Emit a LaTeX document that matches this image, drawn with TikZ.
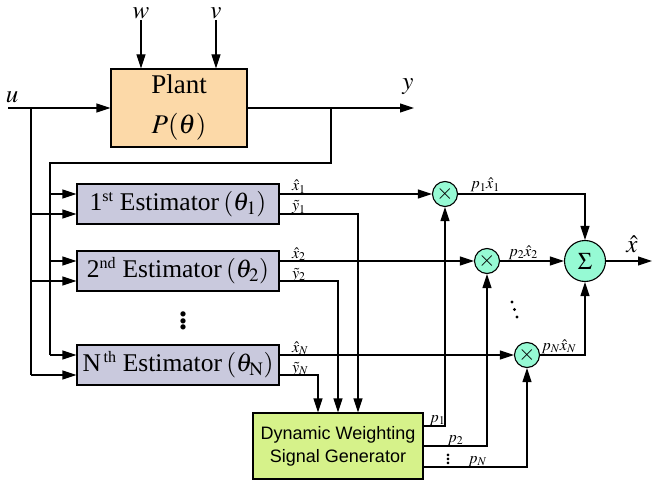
\documentclass[tikz,border=0pt]{standalone}
\usepackage{mathptmx}
\usepackage{fontspec}
\setmainfont{Liberation Serif}
\setsansfont{Liberation Sans}
\usetikzlibrary{positioning,arrows.meta,calc}
\definecolor{plantfill}{RGB}{252,217,168}
\definecolor{estfill}{RGB}{201,201,221}
\definecolor{circfill}{RGB}{150,250,212}
\definecolor{genfill}{RGB}{214,242,138}
\newcommand{\ordsup}[1]{\textsuperscript{\fontsize{16}{16}\selectfont #1}}

\begin{document}
\begin{tikzpicture}[
      x=1pt, y=-1pt,
      line width=1.1pt,
      >={Triangle[length=14pt,width=9pt]},
      plantbox/.style={draw, fill=plantfill, minimum width=136pt, minimum height=78pt,
                       align=center, font=\fontsize{27}{40}\selectfont},
      estbox/.style={draw, fill=estfill, minimum width=202pt, minimum height=40pt,
                     inner sep=0pt, font=\fontsize{25.5}{28}\selectfont},
      genbox/.style={draw, fill=genfill, minimum width=170pt, minimum height=66pt,
                     align=center, font=\sffamily\fontsize{18}{23}\selectfont},
      mult/.style={draw, circle, fill=circfill, minimum size=25pt, inner sep=0pt,
                   font=\fontsize{22}{22}\selectfont},
      sumnode/.style={draw, circle, fill=circfill, minimum size=41pt, inner sep=0pt,
                      font=\fontsize{24}{24}\selectfont},
      sig/.style={font=\fontsize{16}{16}\selectfont, inner sep=0pt},
      bigsig/.style={font=\fontsize{25}{25}\selectfont, inner sep=0pt},
    ]
    \useasboundingbox (0,0) rectangle (653,481);

    % blocks
    \node[plantbox] (plant) at (179,108) {Plant\\$P(\theta)$};
    \node[estbox] (est1) at (178,204) {1\ordsup{st} Estimator\,$(\theta_1)$};
    \node[estbox] (est2) at (178,271) {2\ordsup{nd} Estimator\,$(\theta_2)$};
    \node[estbox] (estN) at (178,365) {N\ordsup{\,th} Estimator\,$(\theta_{\mathrm{N}})$};
    \node[font=\fontsize{32}{32}\selectfont\bfseries] (edots) at (183,318) {$\vdots$};
    \node[genbox] (gen) at (338,446) {Dynamic Weighting\\Signal Generator};

    \node[mult] (m1) at (445,194) {$\times$};
    \node[mult] (m2) at (487,261) {$\times$};
    \node[mult] (mN) at (527,355) {$\times$};
    \node[sumnode] (sum) at (585,261) {$\Sigma$};

    % inputs and plant output
    \node[bigsig, anchor=base] (ulab) at (12,103) {$u$};
    \node[bigsig, anchor=base] (wlab) at (141,19) {$w$};
    \node[bigsig, anchor=base] (vlab) at (216,19) {$v$};
    \node[bigsig, anchor=base] (ylab) at (408,90) {$y$};
    \coordinate (u0) at (8,108);
    \coordinate (us) at (31,108);
    \coordinate (ys) at (331,108);
    \coordinate (yout) at (414,108);
    \coordinate (fb) at (50,163);

    \draw[->] (wlab.south |- 0,20) -- (wlab |- plant.north);
    \draw[->] (vlab.south |- 0,20) -- (vlab |- plant.north);
    \draw[->] (u0) -- (plant.west);
    \draw[->] (plant.east) -- (yout);

    % ports of the estimators
    \foreach \e in {est1,est2,estN} {
      \path ([yshift=10pt]\e.west) coordinate (\e-a)
            ([yshift=-10pt]\e.west) coordinate (\e-b)
            ([yshift=10pt]\e.east) coordinate (\e-x)
            ([yshift=-10pt]\e.east) coordinate (\e-y);
      \draw[->] (fb |- \e-a) -- (\e-a);
      \draw[->] (us |- \e-b) -- (\e-b);
    }
    \draw (us) -- (us |- estN-b);
    \draw (ys) |- (fb) -- (fb |- estN-a);

    % estimates to the multipliers
    \draw[->] (est1-x) -- (m1);
    \draw[->] (est2-x) -- (m2);
    \draw[->] (estN-x) -- (mN);
    \node[sig, anchor=base west] at ([xshift=12pt,yshift=3pt]est1-x) {$\hat{x}_1$};
    \node[sig, anchor=base west] at ([xshift=12pt,yshift=3pt]est2-x) {$\hat{x}_2$};
    \node[sig, anchor=base west] at ([xshift=12pt,yshift=3pt]estN-x) {$\hat{x}_N$};

    % residuals to the generator
    \draw[->] (est1-y) -| ([xshift=20pt]gen.north);
    \draw[->] (est2-y) -| (gen.north);
    \draw[->] (estN-y) -| ([xshift=-20pt]gen.north);
    \node[sig, anchor=base west] at ([xshift=12pt,yshift=3pt]est1-y) {$\tilde{y}_1$};
    \node[sig, anchor=base west] at ([xshift=12pt,yshift=3pt]est2-y) {$\tilde{y}_2$};
    \node[sig, anchor=base west] at ([xshift=12pt,yshift=3pt]estN-y) {$\tilde{y}_N$};

    % weights
    \draw[->] ([yshift=20pt]gen.east) coordinate (g1) -| (m1.south);
    \draw[->] (gen.east) coordinate (g2) -| (m2.south);
    \draw[->] ([yshift=-21pt]gen.east) coordinate (gN) -| (mN.south);
    \node[sig, anchor=base] at ([xshift=14pt,yshift=4pt]g1) {$p_1$};
    \node[sig, anchor=base] at ([xshift=32pt,yshift=4pt]g2) {$p_2$};
    \node[sig, anchor=base] at ([xshift=54pt,yshift=4pt]gN) {$p_N$};
    \node[font=\fontsize{16}{16}\selectfont\bfseries] (gdots) at (448,456) {$\vdots$};

    % weighted sum
    \draw[->] (m1) -| (sum.north);
    \draw[->] (m2) -- (sum);
    \draw[->] (mN) -| (sum.south);
    \draw[->] (sum) -- (652,261) coordinate (xout);
    \node[sig, anchor=base west] at ([xshift=12pt,yshift=5pt]m1.east) {$p_1\hat{x}_1$};
    \node[sig, anchor=base west] at ([xshift=8pt,yshift=5pt]m2.east) {$p_2\hat{x}_2$};
    \node[sig, anchor=base west] at ([xshift=1pt,yshift=5pt]mN.east) {$p_N\hat{x}_N$};
    \node[bigsig, anchor=base] at ([xshift=26pt,yshift=9pt]sum.east) {$\hat{x}$};
    \foreach \d in {0,1,2}
      \fill (512+2.5*\d,302+7.5*\d) circle (1.7pt);
  \end{tikzpicture}
\end{document}
